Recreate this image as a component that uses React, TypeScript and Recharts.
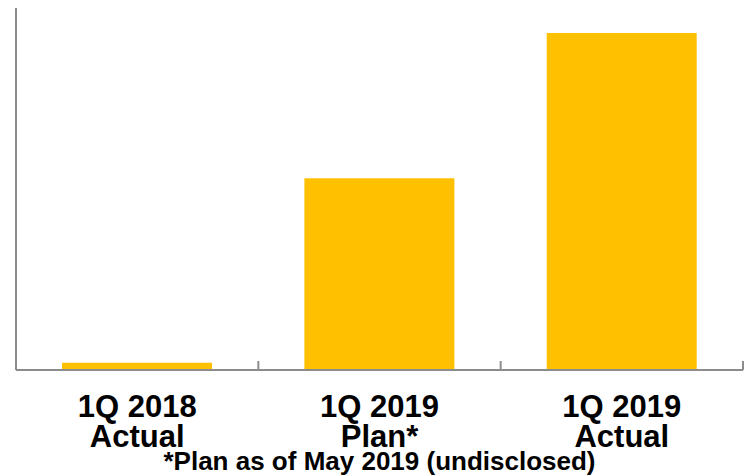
import { BarChart, Bar, XAxis, YAxis } from "recharts";

const categories = ["1Q 2018|Actual", "1Q 2019|Plan*", "1Q 2019|Actual"];
const values = [2.0, 53.0, 93.1];
const footnote = "*Plan as of May 2019 (undisclosed)";

const data = categories.map((c, i) => ({ name: c, value: values[i] }));

const W = 750;
const H = 476;
const margin = { top: 8, right: 7, bottom: 0, left: 15 };
const yAxisWidth = 1;
const plotWidth = W - margin.left - margin.right - yAxisWidth;
const band = plotWidth / categories.length;
const axisColor = "#8c8c8c";
const font = "'Liberation Sans', Arial, sans-serif";

function CategoryTick(props: any) {
  const { x, y, payload } = props;
  const [line1, line2] = String(payload.value).split("|");
  return (
    <g>
      <line x1={x + band / 2} x2={x + band / 2} y1={y - 9} y2={y} stroke={axisColor} strokeWidth={2} />
      <text
        x={x}
        y={y}
        textAnchor="middle"
        fontFamily={font}
        fontWeight="bold"
        fontSize={31}
        fill="#000"
      >
        <tspan x={x} dy={47}>{line1}</tspan>
        <tspan x={x} dy={30}>{line2}</tspan>
      </text>
    </g>
  );
}

export default function App() {
  return (
    <div style={{ position: "absolute", left: 0, top: 0, width: W, height: H, background: "#fff" }}>
      <BarChart width={W} height={H} data={data} margin={margin} barCategoryGap="19%">
        <YAxis
          domain={[0, 100]}
          width={yAxisWidth}
          tick={false}
          tickLine={false}
          axisLine={{ stroke: axisColor, strokeWidth: 2 }}
        />
        <XAxis
          dataKey="name"
          height={106}
          tickLine={false}
          tickSize={0}
          tickMargin={0}
          interval={0}
          axisLine={{ stroke: axisColor, strokeWidth: 2 }}
          tick={<CategoryTick />}
        />
        <Bar dataKey="value" fill="#FFC000" isAnimationActive={false} />
      </BarChart>
      <div
        style={{
          position: "absolute",
          left: margin.left + yAxisWidth,
          width: plotWidth,
          top: 446,
          textAlign: "center",
          fontFamily: font,
          fontWeight: "bold",
          fontSize: 26,
          lineHeight: "30px",
          color: "#000",
          whiteSpace: "nowrap",
        }}
      >
        {footnote}
      </div>
    </div>
  );
}
